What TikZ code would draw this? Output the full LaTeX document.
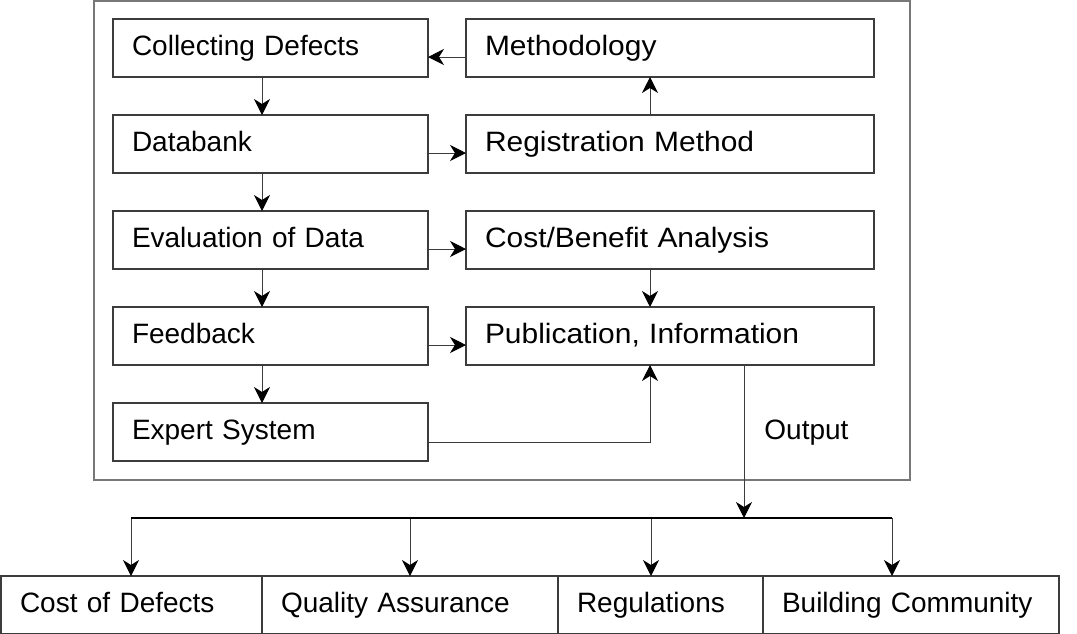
\documentclass[tikz,border=0pt]{standalone}
\usepackage{fontspec}
\setmainfont{Liberation Sans}
\usepackage{tikz}
\usetikzlibrary{arrows.meta,positioning,calc}
\definecolor{framegray}{RGB}{120,120,120}
\definecolor{edgegray}{RGB}{60,60,60}
\tikzset{
  % base box
  box/.style={
    draw=edgegray,
    line width=0.6pt,
    minimum height=29pt,
    inner xsep=9.5pt,
    inner ysep=0pt,
    outer sep=0pt,
    align=left,
    text height=10pt,
    text depth=3pt,
    font=\fontsize{14}{16}\selectfont
  },
  % left column
  lbox/.style={box, text width=138.5pt},
  % right column (slightly wider lettering)
  rbox/.style={box, text width=185pt, font=\fontsize{14}{16}\selectfont\addfontfeatures{FakeStretch=1.07}},
  % receivers at the bottom
  outbox/.style={box, text width=#1},
  % arrows
  arr/.style={-{Stealth[length=8pt, width=8pt, inset=2.5pt, color=black]}, line width=0.5pt, edgegray},
  % outer frame
  frame/.style={draw=framegray, line width=0.8pt},
  lbl/.style={font=\fontsize{14}{16}\selectfont, inner sep=0pt, anchor=base west},
}

\begin{document}
\begin{tikzpicture}[x=0.5pt, y=-0.5pt]
  \useasboundingbox (0,0) rectangle (1077,633);

  % Frame
  \draw[frame] (94,0.8) rectangle (910,480);

  % Left column
  \node[lbox] (cd) at (270.5,48)  {Collecting Defects};
  \node[lbox] (db) at (270.5,144) {Databank};
  \node[lbox] (ev) at (270.5,240) {Evaluation of Data};
  \node[lbox] (fb) at (270.5,336) {Feedback};
  \node[lbox] (ex) at (270.5,432) {Expert System};

  % Right column
  \node[rbox] (me) at (670,48)  {Methodology};
  \node[rbox] (rm) at (670,144) {Registration Method};
  \node[rbox] (cb) at (670,240) {Cost/Benefit Analysis};
  \node[rbox] (pi) at (670,336) {Publication, Information};

  \coordinate (lcol) at (262,0);
  \coordinate (rcol) at (650,0);

  % Down the left column
  \foreach \a/\b in {cd/db, db/ev, ev/fb, fb/ex}
    \draw[arr] (\a.south -| lcol) -- (\b.north -| lcol);

  % Across
  \foreach \a/\b in {db/rm, ev/cb, fb/pi}
    \draw[arr] ($(\a.east)+(0,9)$) -- ($(\b.west)+(0,9)$);
  \draw[arr] ($(me.west)+(0,9)$) -- ($(cd.east)+(0,9)$);

  % Right column
  \draw[arr] (rm.north -| rcol) -- (me.south -| rcol);
  \draw[arr] (cb.south -| rcol) -- (pi.north -| rcol);
  \draw[arr] ($(ex.east)+(0,10)$) -| (pi.south -| rcol);

  % Output
  \coordinate (ocol) at (744,518);
  \draw[arr] (pi.south -| ocol) -- (ocol);
  \node[lbl] (outlbl) at (764,439) {Output};

  % Receivers
  \node[outbox=111.5pt, anchor=north west] (cost) at (1,576) {Cost of Defects};
  \node[outbox=129pt, right=0pt of cost] (qa) {Quality Assurance};
  \node[outbox=83.5pt, right=0pt of qa] (reg) {Regulations};
  \node[outbox=129pt, right=0pt of reg] (bc) {Building Community};

  % Distribution
  \foreach \b/\x in {cost/131, qa/410, reg/651, bc/892} {
    \coordinate (t\b) at (\x,518);
    \draw[arr] (t\b) -- (t\b |- \b.north);
  }
  \draw[line width=0.6pt] (tcost) -- (tbc);
\end{tikzpicture}
\end{document}
